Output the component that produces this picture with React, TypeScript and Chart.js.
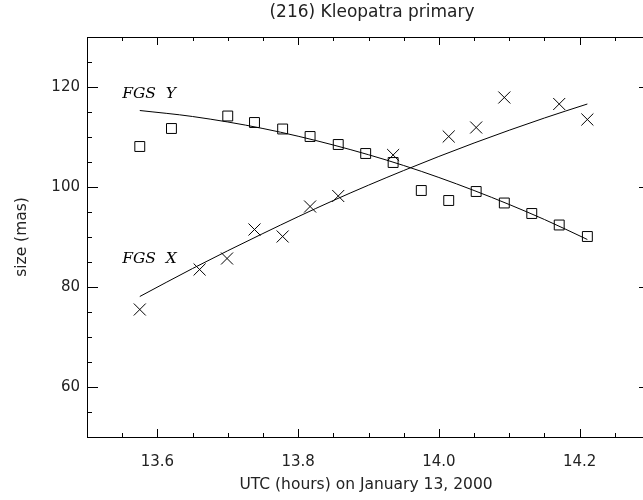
import React, { useEffect, useRef } from "react";
import { Chart, registerables } from "chart.js";

Chart.register(...registerables);

const titleText = "(216) Kleopatra primary";
const xTitle = "UTC (hours) on January 13, 2000";
const yTitle = "size (mas)";

const xMajorValues = [13.6, 13.8, 14.0, 14.2];
const xTickLabels = ["13.6", "13.8", "14.0", "14.2"];
const xMinorValues = [13.5, 13.55, 13.65, 13.7, 13.75, 13.85, 13.9, 13.95, 14.05, 14.1, 14.15, 14.25, 14.3];
const yMajorValues = [60, 80, 100, 120];
const yTickLabels = ["60", "80", "100", "120"];
const yMinorValues = [55, 65, 70, 75, 85, 90, 95, 105, 110, 115, 125];

// FGS Y (squares)
const timesY = [13.575, 13.62, 13.7, 13.738, 13.778, 13.817, 13.857, 13.896, 13.935, 13.975, 14.014, 14.053, 14.093, 14.132, 14.171, 14.211];
const sizesY = [108.1, 111.7, 114.2, 112.9, 111.6, 110.1, 108.5, 106.7, 104.9, 99.3, 97.3, 99.1, 96.8, 94.7, 92.4, 90.1];
// FGS X (crosses)
const timesX = [13.575, 13.66, 13.699, 13.738, 13.778, 13.817, 13.857, 13.935, 14.014, 14.053, 14.093, 14.171, 14.211];
const sizesX = [75.5, 83.5, 85.7, 91.5, 90.1, 96.1, 98.2, 106.4, 110.1, 111.9, 117.9, 116.6, 113.5];
// fitted curves
const fitTimes = [13.575, 13.65, 13.75, 13.85, 13.95, 14.05, 14.15, 14.211];
const fitX = [78.1, 83.7, 90.7, 97.3, 103.3, 108.8, 113.8, 116.6];
const fitY = [115.3, 114.1, 111.7, 108.4, 104.3, 99.3, 93.5, 89.5];

const curveLabels = [
  { text: "FGS  Y", x: 13.55, y: 117.8 },
  { text: "FGS  X", x: 13.55, y: 84.8 },
];

const SANS = '"DejaVu Sans", sans-serif';
const SERIF = '"DejaVu Serif", serif';

const axesPlugin = {
  id: "idlAxes",
  afterDraw(chart: any) {
    const { ctx, chartArea, scales } = chart;
    const { left, right, top, bottom } = chartArea;
    const xs = scales.x;
    const ys = scales.y;
    ctx.save();
    ctx.strokeStyle = "#000";
    ctx.lineWidth = 1;
    ctx.strokeRect(Math.round(left) + 0.5, Math.round(top) + 0.5, Math.round(right - left), Math.round(bottom - top));

    const xTick = (v: number, len: number) => {
      const px = Math.round(xs.getPixelForValue(v)) + 0.5;
      ctx.beginPath();
      ctx.moveTo(px, bottom);
      ctx.lineTo(px, bottom - len);
      ctx.moveTo(px, top);
      ctx.lineTo(px, top + len);
      ctx.stroke();
    };
    const yTick = (v: number, len: number) => {
      const py = Math.round(ys.getPixelForValue(v)) + 0.5;
      ctx.beginPath();
      ctx.moveTo(left, py);
      ctx.lineTo(left + len, py);
      ctx.moveTo(right, py);
      ctx.lineTo(right - len, py);
      ctx.stroke();
    };
    xMajorValues.forEach((v) => xTick(v, 8));
    xMinorValues.forEach((v) => xTick(v, 4));
    yMajorValues.forEach((v) => yTick(v, 11));
    yMinorValues.forEach((v) => yTick(v, 5));

    ctx.fillStyle = "#222";
    ctx.font = `15px ${SANS}`;
    ctx.textAlign = "center";
    ctx.textBaseline = "middle";
    xMajorValues.forEach((v, i) => {
      ctx.fillText(xTickLabels[i], xs.getPixelForValue(v), bottom + 25);
    });
    ctx.textAlign = "right";
    yMajorValues.forEach((v, i) => {
      ctx.fillText(yTickLabels[i], left - 7, ys.getPixelForValue(v));
    });
    ctx.textAlign = "center";
    ctx.font = `15.5px ${SANS}`;
    ctx.fillText(xTitle, 366, bottom + 48);
    ctx.font = `17px ${SANS}`;
    ctx.fillText(titleText, 372, 13);
    ctx.save();
    ctx.translate(22, 237);
    ctx.rotate(-Math.PI / 2);
    ctx.font = `15.5px ${SANS}`;
    ctx.fillText(yTitle, 0, 0);
    ctx.restore();

    ctx.fillStyle = "#000";
    ctx.font = `italic 15.5px ${SERIF}`;
    ctx.textAlign = "left";
    ctx.textBaseline = "alphabetic";
    curveLabels.forEach((l) => {
      ctx.fillText(l.text, xs.getPixelForValue(l.x), ys.getPixelForValue(l.y));
    });
    ctx.restore();
  },
};

export default function App() {
  const ref = useRef<HTMLCanvasElement | null>(null);
  useEffect(() => {
    if (!ref.current) return;
    const chart = new Chart(ref.current, {
      type: "scatter",
      data: {
        datasets: [
          {
            label: "FGS Y",
            data: timesY.map((t, i) => ({ x: t, y: sizesY[i] })),
            pointStyle: "rect",
            pointRadius: 7,
            pointBorderColor: "#000",
            pointBackgroundColor: "rgba(0,0,0,0)",
            pointBorderWidth: 1,
            showLine: false,
          },
          {
            label: "FGS X",
            data: timesX.map((t, i) => ({ x: t, y: sizesX[i] })),
            pointStyle: "crossRot",
            pointRadius: 8.5,
            pointBorderColor: "#000",
            pointBorderWidth: 1,
            showLine: false,
          },
          {
            label: "fit X",
            data: fitTimes.map((t, i) => ({ x: t, y: fitX[i] })),
            showLine: true,
            pointRadius: 0,
            borderColor: "#000",
            borderWidth: 1,
            cubicInterpolationMode: "monotone",
          },
          {
            label: "fit Y",
            data: fitTimes.map((t, i) => ({ x: t, y: fitY[i] })),
            showLine: true,
            pointRadius: 0,
            borderColor: "#000",
            borderWidth: 1,
            cubicInterpolationMode: "monotone",
          },
        ],
      },
      options: {
        animation: false,
        responsive: false,
        maintainAspectRatio: false,
        events: [],
        layout: { padding: { left: 87, right: 10, top: 37, bottom: 63 } },
        plugins: { legend: { display: false }, tooltip: { enabled: false } },
        scales: {
          x: { type: "linear", min: 13.5, max: 14.3, display: false },
          y: { type: "linear", min: 50, max: 130, display: false },
        },
      },
      plugins: [axesPlugin],
    } as any);
    return () => chart.destroy();
  }, []);
  return (
    <div style={{ position: "fixed", left: 0, top: 0, width: 643, height: 500, overflow: "hidden", background: "#fff" }}>
      <canvas ref={ref} width={660} height={500} style={{ width: 660, height: 500, display: "block" }} />
    </div>
  );
}
